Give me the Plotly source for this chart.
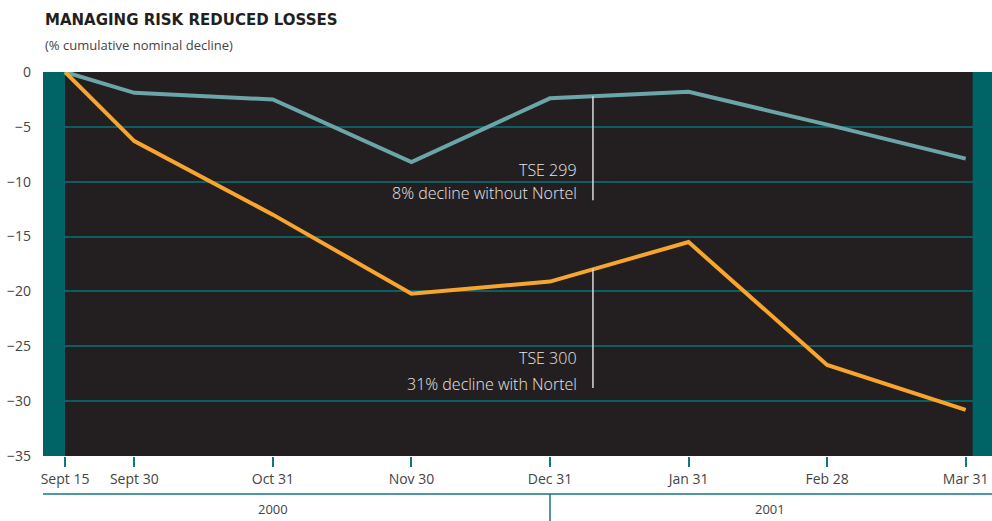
import plotly.graph_objects as go

# month-end dates; first interval is half a month
dates = ["Sept 15", "Sept 30", "Oct 31", "Nov 30", "Dec 31", "Jan 31", "Feb 28", "Mar 31"]
date_pos = [0, 0.5, 1.5, 2.5, 3.5, 4.5, 5.5, 6.5]
tse299 = [0, -1.9, -2.5, -8.2, -2.4, -1.8, -4.8, -7.9]
tse300 = [0, -6.3, -13.0, -20.2, -19.1, -15.5, -26.7, -30.8]
y_ticks = [0, -5, -10, -15, -20, -25, -30, -35]
years = ["2000", "2001"]

TEAL_BG = "#006366"
DARK = "#231f20"
TEAL_LINE = "#6ba5a8"
ORANGE = "#f7a52c"
GRID = "#0b5f62"
FONT = "Open Sans"

fig = go.Figure()

fig.add_trace(go.Scatter(x=date_pos, y=tse299, mode="lines", name="TSE 299",
                         line=dict(color=TEAL_LINE, width=4), showlegend=False))
fig.add_trace(go.Scatter(x=date_pos, y=tse300, mode="lines", name="TSE 300",
                         line=dict(color=ORANGE, width=4), showlegend=False))

# dark panel between teal edge strips
fig.add_shape(type="rect", xref="x", yref="y", x0=0, x1=6.55, y0=-35, y1=0,
              fillcolor=DARK, line=dict(width=0), layer="below")

# callout leader lines
for y0, y1 in [(-2.2, -11.7), (-17.9, -28.8)]:
    fig.add_shape(type="line", xref="x", yref="y", x0=3.81, x1=3.81, y0=y0, y1=y1,
                  line=dict(color="#d9d9d9", width=1.5))

callouts = [("TSE 299", -8.9), ("8% decline without Nortel", -11.0),
            ("TSE 300", -26.1), ("31% decline with Nortel", -28.4)]
for txt, yy in callouts:
    fig.add_annotation(x=3.71, y=yy, text=txt, showarrow=False, xanchor="right",
                       yanchor="middle",
                       font=dict(family=FONT, size=16, color="#e6e6e6", weight=300))

# year band under axis
fig.add_shape(type="line", xref="paper", yref="paper", x0=0, x1=1, y0=-0.099, y1=-0.099,
              line=dict(color="#13777a", width=1.5))
fig.add_shape(type="line", xref="x", yref="paper", x0=3.5, x1=3.5, y0=-0.099, y1=-0.18,
              line=dict(color="#13777a", width=1.5))
for yr, xp in zip(years, [1.5, 5.09]):
    fig.add_annotation(x=xp, xref="x", y=-0.138, yref="paper", text=yr, showarrow=False,
                       yanchor="middle", font=dict(family=FONT, size=13, color="#444444"))

# title and subtitle
fig.add_annotation(xref="paper", yref="paper", x=0, y=1.135, xanchor="left", yanchor="middle",
                   text="<b>MANAGING RISK REDUCED LOSSES</b>", showarrow=False,
                   font=dict(family="DejaVu Sans", size=15, color="#231f20"))
fig.add_annotation(xref="paper", yref="paper", x=0, y=1.07, xanchor="left", yanchor="middle",
                   text="(% cumulative nominal decline)", showarrow=False,
                   font=dict(family=FONT, size=13, color="#444444"))

fig.update_xaxes(range=[-0.159, 6.69], tickmode="array", tickvals=date_pos, ticktext=dates,
                 ticks="outside", ticklen=10, tickcolor="#13777a", tickwidth=1.5,
                 showgrid=False, zeroline=False, showline=False, automargin=False,
                 tickfont=dict(family=FONT, size=14, color="#444444"))
fig.update_yaxes(range=[-35, 0], tickmode="array", tickvals=y_ticks,
                 showgrid=True, gridcolor=GRID, gridwidth=1.5, zeroline=False,
                 ticks="", ticklabelstandoff=11, automargin=False,
                 tickfont=dict(family=FONT, size=14, color="#444444"))

fig.update_layout(width=992, height=521, margin=dict(l=43, r=0, t=72, b=65),
                  plot_bgcolor=TEAL_BG, paper_bgcolor="white", showlegend=False)

# drop the default page margin so the figure fills the window
fig.write_html("out.html", config={"displayModeBar": False},
               post_script="document.body.style.margin='0px';")
